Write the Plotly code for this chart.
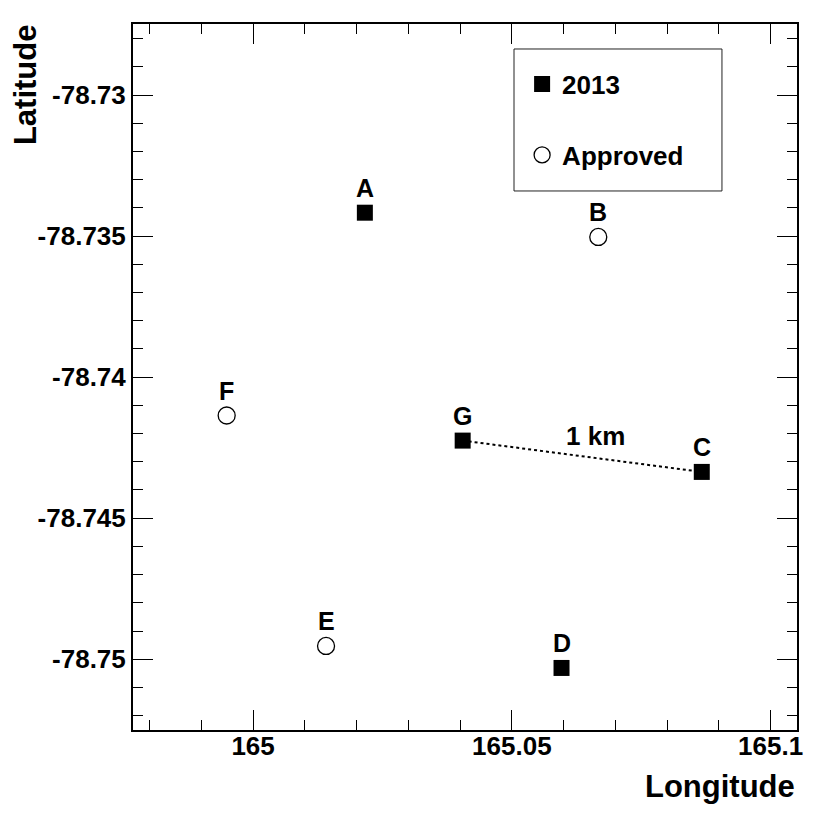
import plotly.graph_objects as go

# station positions
SITES_2013 = ["A", "C", "D", "G"]
LON_2013 = [165.0216, 165.0867, 165.0596, 165.0405]
LAT_2013 = [-78.73417, -78.74336, -78.75031, -78.74225]

SITES_APPROVED = ["B", "E", "F"]
LON_APPROVED = [165.0667, 165.0141, 164.9949]
LAT_APPROVED = [-78.73503, -78.74953, -78.74136]

# the distance bar runs G -> C
SCALE_FROM = "G"
SCALE_TO = "C"
SCALE_LABEL = "1 km"

X_TICKS = [165, 165.05, 165.1]
X_TICKTEXT = ["165", "165.05", "165.1"]
Y_TICKS = [-78.75, -78.745, -78.74, -78.735, -78.73]
Y_TICKTEXT = ["-78.75", "-78.745", "-78.74", "-78.735", "-78.73"]

FONT = "Liberation Sans, Arial, Helvetica, sans-serif"
INK = "#000000"

fig = go.Figure()

i0 = SITES_2013.index(SCALE_FROM)
i1 = SITES_2013.index(SCALE_TO)
line_x = [LON_2013[i0], LON_2013[i1]]
line_y = [LAT_2013[i0], LAT_2013[i1]]
fig.add_trace(
    go.Scatter(
        x=line_x,
        y=line_y,
        mode="lines",
        line={"color": INK, "width": 2, "dash": "dot"},
        showlegend=False,
        hoverinfo="skip",
    )
)

fig.add_trace(
    go.Scatter(
        x=LON_2013,
        y=LAT_2013,
        mode="markers",
        name="2013",
        legendgroup="2013",
        marker={"symbol": "square", "size": 16, "color": INK, "line": {"width": 0}},
        customdata=SITES_2013,
        hovertemplate="%{customdata}<br>%{x:.4f}, %{y:.5f}<extra>2013</extra>",
    )
)
fig.add_trace(
    go.Scatter(
        x=LON_APPROVED,
        y=LAT_APPROVED,
        mode="markers",
        name="Approved",
        legendgroup="approved",
        marker={"symbol": "circle", "size": 17, "color": "white", "line": {"color": INK, "width": 1.3}},
        customdata=SITES_APPROVED,
        hovertemplate="%{customdata}<br>%{x:.4f}, %{y:.5f}<extra>Approved</extra>",
    )
)

annotations = []
for names, lons, lats in [(SITES_2013, LON_2013, LAT_2013), (SITES_APPROVED, LON_APPROVED, LAT_APPROVED)]:
    for name, lon, lat in zip(names, lons, lats):
        annotations.append(
            dict(
                x=lon, y=lat, xref="x", yref="y", text=name, showarrow=False,
                yanchor="middle", yshift=25,
                font={"family": FONT, "size": 25, "color": INK, "weight": "bold"},
            )
        )

annotations.append(
    dict(
        x=(line_x[0] + line_x[1]) / 2, y=(line_y[0] + line_y[1]) / 2,
        xref="x", yref="y", text=SCALE_LABEL, showarrow=False,
        xshift=13, yshift=20,
        font={"family": FONT, "size": 26, "color": INK, "weight": "bold"},
    )
)

annotations.append(
    dict(
        x=1, y=-0.0807, xref="paper", yref="paper", text="Longitude", showarrow=False,
        xanchor="right", yanchor="middle",
        font={"family": FONT, "size": 31, "color": INK, "weight": "bold"},
    )
)
annotations.append(
    dict(
        x=-0.161, y=0.9136, xref="paper", yref="paper", text="Latitude", showarrow=False,
        xanchor="center", yanchor="middle", textangle=-90,
        font={"family": FONT, "size": 31, "color": INK, "weight": "bold"},
    )
)

# the page adds an 8px body margin, so the plot box is shifted back by that much
fig.update_layout(
    width=830,
    height=830,
    margin={"l": 125, "r": 41, "t": 16, "b": 108},
    paper_bgcolor="white",
    plot_bgcolor="white",
    font={"family": FONT, "color": INK},
    annotations=annotations,
    shapes=[
        dict(
            type="rect", xref="paper", yref="paper",
            x0=0.5738, x1=0.887, y0=0.7635, y1=0.9646,
            line={"color": "#222222", "width": 1}, fillcolor="rgba(0,0,0,0)",
        )
    ],
    legend={
        "x": 0.586, "y": 0.948, "xanchor": "left", "yanchor": "top",
        "bgcolor": "rgba(0,0,0,0)", "borderwidth": 0,
        "font": {"family": FONT, "size": 26, "color": INK, "weight": "bold"},
        "tracegroupgap": 34,
    },
)

axis_common = dict(
    showline=True, linewidth=2, linecolor=INK, mirror="allticks",
    ticks="inside", ticklen=20, tickwidth=1.2, tickcolor=INK,
    showgrid=False, zeroline=False,
    tickfont={"family": FONT, "size": 26, "color": INK, "weight": "bold"},
)

fig.update_xaxes(
    range=[164.9768, 165.1051],
    tickmode="array", tickvals=X_TICKS, ticktext=X_TICKTEXT,
    ticklabelstandoff=-8,
    minor={"tick0": 165, "dtick": 0.01, "ticks": "inside", "ticklen": 10, "tickwidth": 1.2, "tickcolor": INK},
    **axis_common,
)
fig.update_yaxes(
    range=[-78.75251, -78.72748],
    tickmode="array", tickvals=Y_TICKS, ticktext=Y_TICKTEXT,
    minor={"tick0": -78.73, "dtick": 0.001, "ticks": "inside", "ticklen": 10, "tickwidth": 1.2, "tickcolor": INK},
    **axis_common,
)

fig.write_html("out.html")
